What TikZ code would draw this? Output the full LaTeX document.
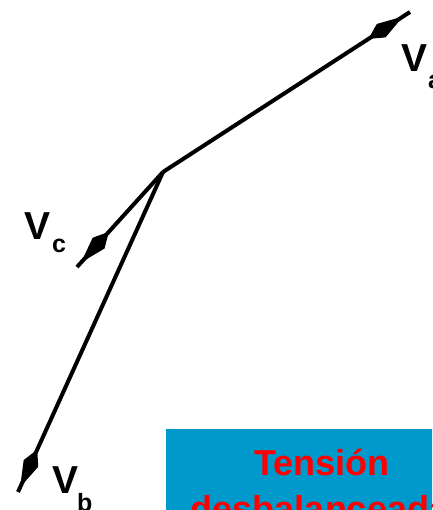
\documentclass[tikz,border=0pt]{standalone}
\usepackage{fontspec}
\setmainfont{Liberation Sans}
\usetikzlibrary{decorations.markings}
\definecolor{boxblue}{HTML}{0099CC}
\definecolor{txtred}{HTML}{FF0000}
\tikzset{
  vec/.style={line width=4pt, postaction={decorate}, decoration={markings, mark=at position #1 with {\fill (-15pt,0) .. controls (-4pt,6pt) .. (0,8pt) -- (26pt,0) -- (0,-8pt) .. controls (-4pt,-6pt) .. (-15pt,0) -- cycle;}}},
  big/.style={inner sep=0pt, anchor=base west, font=\bfseries\fontsize{39}{39}\selectfont},
  sub/.style={inner sep=0pt, anchor=base west, font=\bfseries\fontsize{25}{25}\selectfont},
}
\begin{document}
\begin{tikzpicture}[x=1pt,y=-1pt]
\useasboundingbox[clip] (0,0) rectangle (432,510);
\fill[white] (0,0) rectangle (432,510);
\coordinate (O) at (163,172);
\coordinate (A) at (410,12);
\coordinate (C) at (77,267);
\coordinate (B) at (18,492);
\draw[vec=260pt] (O) -- (A);
\draw[vec=96pt] (O) -- (C);
\draw[vec=320pt] (O) -- (B);
\node[big] (va) at (401,72) {V};
\node[sub] (vas) at (428,89) {a};
\node[big] (vc) at (24,240) {V};
\node[sub] (vcs) at (52,252) {c};
\node[big] (vb) at (52,493) {V};
\node[sub] (vbs) at (77,511) {b};
\fill[boxblue] (166,429) rectangle (480,520);
\node[inner sep=0pt, anchor=base, text=txtred, font=\bfseries\fontsize{36}{36}\selectfont] (t1) at (322,475) {Tensión};
\node[inner sep=0pt, anchor=base, text=txtred, font=\bfseries\fontsize{36}{36}\selectfont] (t2) at (320,521) {desbalanceada};
\end{tikzpicture}
\end{document}
